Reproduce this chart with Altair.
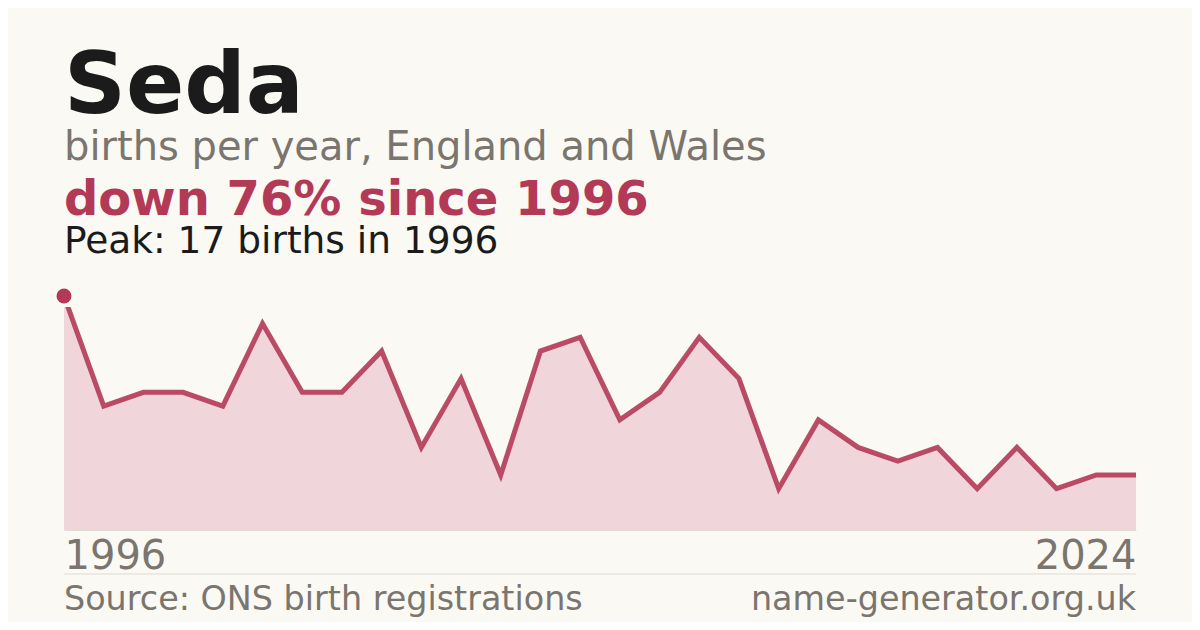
import altair as alt
import pandas as pd

# Data (28 plotted points; one year between 1996 and 2024 absent)
years = [1996, 1997, 1998, 1999, 2000, 2001, 2002, 2003, 2004, 2005, 2006, 2007,
         2008, 2009, 2010, 2011, 2012, 2013, 2014, 2015, 2016, 2017, 2018, 2019,
         2021, 2022, 2023, 2024]
births = [17, 9, 10, 10, 9, 15, 10, 10, 13, 6, 11, 4,
          13, 14, 8, 10, 14, 11, 3, 8, 6, 5, 6, 3,
          6, 3, 4, 4]
axis_years = [1996, 2024]

title_text = "Seda"
subtitle_text = "births per year, England and Wales"
change_text = "down 76% since 1996"
peak_text = "Peak: 17 births in 1996"
source_text = "Source: ONS birth registrations"
site_text = "name-generator.org.uk"

BG = "#faf9f4"
INK = "#1b1b1b"
GREY = "#7a756e"
CRIMSON = "#b33a57"
FILL = "#f0d5db"
RULE = "#dedbd2"
FONT = "DejaVu Sans"

W, H = 1072, 223

df = pd.DataFrame({"year": years, "births": births})
peak_value = max(births)

x_enc = alt.X(
    "year:O",
    scale=alt.Scale(type="point", padding=0),
    axis=alt.Axis(
        values=axis_years,
        title=None,
        labelAngle=0,
        labelFont=FONT,
        labelFontSize=40,
        labelColor=GREY,
        labelBaseline="alphabetic",
        labelPadding=38,
        labelAlign={"condition": {"test": "datum.value == 1996", "value": "left"}, "value": "right"},
        labelOverlap=False,
        ticks=False,
        tickSize=0,
        grid=False,
        domain=True,
        domainColor=RULE,
        domainWidth=1,
    ),
)
y_enc = alt.Y("births:Q", scale=alt.Scale(domain=[0, 16.2], nice=False, zero=True), axis=None)

base = alt.Chart(df).encode(x=x_enc, y=y_enc)
area = base.mark_area(color=FILL, clip=True, interpolate="linear")
line = base.mark_line(color=CRIMSON, strokeWidth=5, clip=True, opacity=0.9)
peak = base.transform_filter(alt.datum.births == peak_value).mark_circle(
    size=225, color=CRIMSON, opacity=1
)


def label(text, y, size, color, weight="normal", align="left", x=0):
    return alt.Chart(pd.DataFrame({"t": [text]})).mark_text(
        align=align, baseline="alphabetic", font=FONT, fontSize=size,
        fontWeight=weight, color=color
    ).encode(text="t:N", x=alt.value(x), y=alt.value(y))


texts = [
    label(title_text, -194, 86, INK, "bold"),
    label(subtitle_text, -147, 40, GREY),
    label(change_text, -92, 48, CRIMSON, "bold"),
    label(peak_text, -54, 37.5, INK),
    label(source_text, 303, 33.4, GREY),
    label(site_text, 303, 33.4, GREY, align="right", x=W),
]

rule = alt.Chart(pd.DataFrame({"r": [0]})).mark_rule(color=RULE, strokeWidth=1).encode(
    x=alt.value(0), x2=alt.value(W), y=alt.value(267)
)

chart = alt.layer(area, line, peak, rule, *texts).properties(
    width=W,
    height=H,
    padding={"left": 56, "top": 299, "right": 56, "bottom": 92},
    autosize=alt.AutoSizeParams(type="none"),
    background=BG,
).configure_view(stroke=None)

chart.save("out.html", embed_options={"renderer": "svg", "actions": False})
